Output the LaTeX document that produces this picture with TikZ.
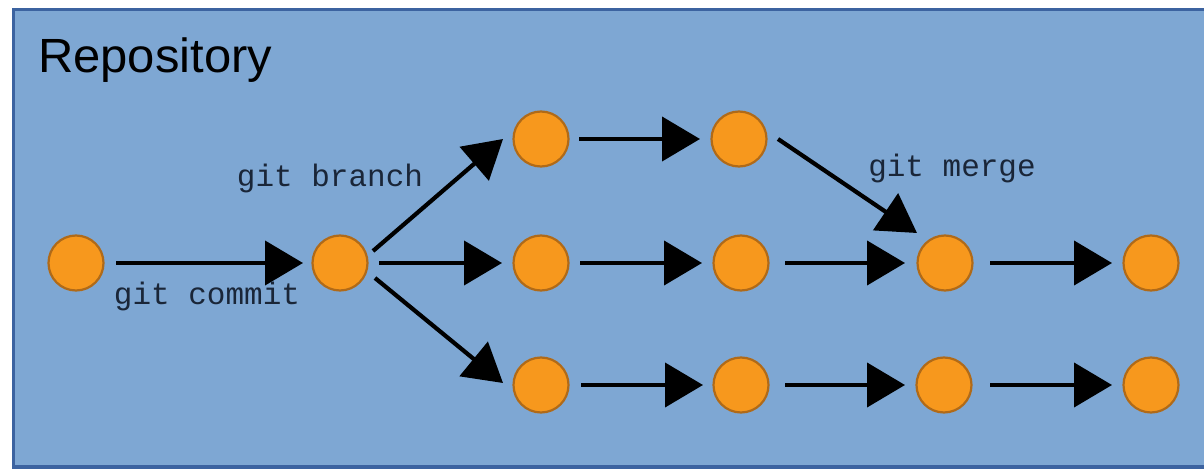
\documentclass[tikz,border=0pt]{standalone}
\usepackage{fontspec}
\setmainfont{Liberation Sans}
\newfontfamily\gitmono{Liberation Mono}
\usetikzlibrary{arrows.meta,calc}
\definecolor{boxfill}{HTML}{7EA7D3}
\definecolor{boxline}{HTML}{3C63A0}
\definecolor{commitfill}{HTML}{F7981D}
\definecolor{commitline}{HTML}{B06A18}
\definecolor{labeltext}{HTML}{1A2638}
\tikzset{
  commit/.style={circle,fill=commitfill,draw=commitline,line width=2.2pt,minimum size=55pt,inner sep=0pt},
  arr/.style={line width=4.2pt,-{Triangle[length=38pt,width=44pt]}},
  gitlabel/.style={text=labeltext,font=\gitmono\fontsize{31}{31}\selectfont,inner sep=0pt},
}
\begin{document}
\begin{tikzpicture}[x=1pt,y=-1pt]
\useasboundingbox (0,0) rectangle (1204,470);
\fill[white] (0,0) rectangle (1204,470);
\begin{scope}
\clip (0,0) rectangle (1204,470);
\draw[boxline,fill=boxfill,line width=3.5pt] (13.5,9.5) rectangle (1215,467);
\end{scope}
\node[anchor=base west,inner sep=0pt,font=\fontsize{48}{48}\selectfont,text=black,xscale=1.02] (repo) at (38,73) {Repository};

\node[commit] (c0) at (76,263) {};
\node[commit] (c1) at (340,263) {};
\node[commit] (t1) at (541,139) {};
\node[commit] (t2) at (739,139) {};
\node[commit] (m1) at (541,263) {};
\node[commit] (m2) at (741,263) {};
\node[commit] (mg) at (945,263) {};
\node[commit] (m4) at (1151,263) {};
\node[commit] (b1) at (541,385) {};
\node[commit] (b2) at (741,385) {};
\node[commit] (b3) at (944,385) {};
\node[commit] (b4) at (1151,385) {};

\draw[arr] ($(c0)+(40,0)$) -- ($(c1)+(-37,0)$);
\draw[arr] ($(c1)+(39,0)$) -- ($(m1)+(-39,0)$);
\draw[arr] ($(c1)+(33,-12)$) -- ($(t1)+(-38,0)$);
\draw[arr] ($(c1)+(35,15)$) -- ($(b1)+(-38,-2)$);
\draw[arr] ($(t1)+(38,0)$) -- ($(t2)+(-39,0)$);
\draw[arr] ($(m1)+(39,0)$) -- ($(m2)+(-39,0)$);
\draw[arr] ($(m2)+(44,0)$) -- ($(mg)+(-40,0)$);
\draw[arr] ($(mg)+(45,0)$) -- ($(m4)+(-39,0)$);
\draw[arr] ($(t2)+(39,0)$) -- ($(mg)+(-28,-30)$);
\draw[arr] ($(b1)+(40,0)$) -- ($(b2)+(-38,0)$);
\draw[arr] ($(b2)+(44,0)$) -- ($(b3)+(-39,0)$);
\draw[arr] ($(b3)+(46,0)$) -- ($(b4)+(-39,0)$);

\node[gitlabel,anchor=base] (lcommit) at (207,305) {git commit};
\node[gitlabel,anchor=base] (lbranch) at (330,187) {git branch};
\node[gitlabel,anchor=base] (lmerge) at (952,177) {git merge};
\end{tikzpicture}
\end{document}
